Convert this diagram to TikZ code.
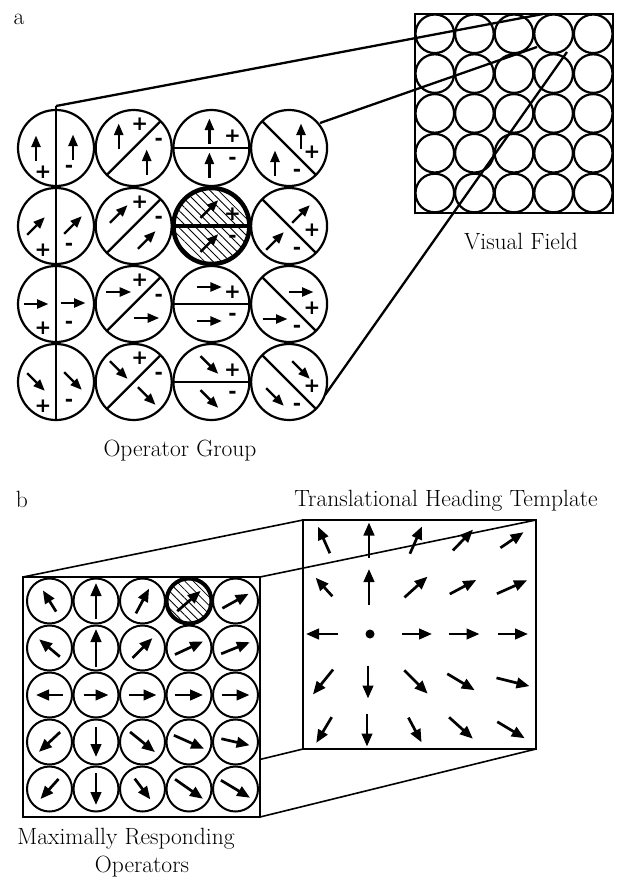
\documentclass[tikz,border=0pt]{standalone}
\usepackage{fontspec}
\newfontfamily\signfont{DejaVu Sans}
\usetikzlibrary{arrows.meta,patterns.meta}
\tikzset{
  opring/.style={draw=black, fill=white, line width=2.2pt},
  opbold/.style={draw=black, line width=4.5pt},
  ophatch/.style={pattern={Lines[angle=-45,distance=6pt,line width=0.8pt]}},
  opsplit/.style={draw=black, line width=2.2pt, line cap=butt},
  opdir/.style={line width=2.4pt, -{Triangle[length=11.5pt,width=9pt]}},
  opsign/.style={inner sep=0pt, font=\signfont\bfseries\fontsize{20}{20}\selectfont},
  vfring/.style={draw=black, line width=2.2pt},
  vfbox/.style={draw=black, line width=2.6pt},
  vflink/.style={draw=black, line width=2.3pt},
  flring/.style={draw=black, fill=white, line width=2pt},
  flbold/.style={draw=black, line width=4pt},
  flbox/.style={draw=black, line width=2.6pt},
  fldir/.style={line width=2.7pt, -{Triangle[length=13pt,width=10.5pt]}},
  fllink/.style={draw=black, line width=1.6pt},
  capt/.style={inner sep=0pt, anchor=base, font=\fontsize{23.5}{28}\selectfont},
}
\newcommand{\dirarrow}[5]{\draw[#1, shift={(#2,#3)}, rotate=#4] (-#5/2,0) -- (#5/2,0);}

\begin{document}
\begin{tikzpicture}[x=1pt, y=-1pt]
\useasboundingbox (0,0) rectangle (628,880);

\node[capt] (lbl-a) at (19,25) {a};
\node[capt] (cap-op) at (180,456) {Operator Group};
\node[capt] (cap-vf) at (521,249) {Visual Field};
\node[capt] (lbl-b) at (22,507) {b};
\node[capt] (cap-tp) at (446,506) {Translational Heading Template};
\node[capt] (cap-mr) at (126,844) {Maximally Responding};
\node[capt] (cap-mr2) at (142,872) {Operators};

\foreach \c in {0,...,3} \foreach \r in {0,...,3}
  \draw[opring] (56+77.7*\c,148+78*\r) circle (38);
\fill[ophatch] (211.4,226) circle (38);
\draw[opbold] (211.4,226) circle (38);
\coordinate (op-nw) at (56,106);
\coordinate (op-sw) at (56,420);
\draw[opsplit] (op-nw) -- (op-sw);
\foreach \r/\ang in {0/90,1/45,2/0,3/-45} {
  \begin{scope}[shift={(56,148+78*\r)}]
    \dirarrow{opdir}{-20}{0}{\ang}{25}
    \dirarrow{opdir}{17}{-1}{\ang}{25}
    \node[opsign] (pa\r) at (-13,24) {+};
    \node[opsign] (ma\r) at (13,21) {-};
  \end{scope}
  \begin{scope}[shift={(133.7,148+78*\r)}]
    \draw[opsplit] (-26.9,26.9) -- (26.9,-26.9);
    \dirarrow{opdir}{-15}{-12}{\ang}{25}
    \dirarrow{opdir}{13}{14}{\ang}{25}
    \node[opsign] (pb\r) at (6,-24) {+};
    \node[opsign] (mb\r) at (25,-6) {-};
  \end{scope}
  \begin{scope}[shift={(211.4,148+78*\r)}]
    \draw[opsplit] (-38,0) -- (38,0);
    \dirarrow{opdir}{-2}{-17}{\ang}{25}
    \dirarrow{opdir}{-2}{17}{\ang}{25}
    \node[opsign] (pc\r) at (21,-12) {+};
    \node[opsign] (mc\r) at (21,13) {-};
  \end{scope}
  \begin{scope}[shift={(289,148+78*\r)}]
    \draw[opsplit] (-26.9,-26.9) -- (26.9,26.9);
    \dirarrow{opdir}{12}{-12}{\ang}{25}
    \dirarrow{opdir}{-14}{15}{\ang}{25}
    \node[opsign] (pd\r) at (23,4) {+};
    \node[opsign] (md\r) at (8,25) {-};
  \end{scope}
}
\draw[opsplit, line width=4pt] (173.4,226) -- (249.4,226);

\draw[vfbox] (415,14) rectangle (613,213);
\foreach \i in {0,...,4} \foreach \j in {0,...,4}
  \draw[vfring] (434.8+39.6*\i,33.8+39.8*\j) circle (19.3);
\coordinate (op-ne) at (320,123);
\coordinate (op-se) at (325,395);
\coordinate (vf-a) at (543,14);
\coordinate (vf-b) at (537,47);
\coordinate (vf-c) at (567,52);
\draw[vflink] (op-nw) -- (vf-a);
\draw[vflink] (op-ne) -- (vf-b);
\draw[vflink] (op-se) -- (vf-c);

\coordinate (mr-nw) at (23,577);
\coordinate (mr-ne) at (260,577);
\coordinate (mr-sw) at (23,817);
\coordinate (mr-se) at (260,817);
\coordinate (tp-nw) at (303,520);
\coordinate (tp-ne) at (536,520);
\coordinate (tp-sw) at (303,749);
\coordinate (tp-se) at (536,749);
\draw[fllink] (mr-sw) -- (tp-sw);
\draw[flbox, fill=white] (mr-nw) rectangle (mr-se);
\foreach \c in {0,...,4} \foreach \r in {0,...,4}
  \draw[flring] (49.5+46.5*\c,601+47*\r) circle (22.5);
\fill[ophatch] (189,601) circle (22.5);
\draw[flbold] (189,601) circle (22.5);
\foreach \c/\r/\ang/\len in {
  0/0/122/25, 1/0/90/36, 2/0/62/28, 3/0/41/31, 4/0/29/30,
  0/1/140/27, 1/1/90/38, 2/1/45/28, 3/1/25/31, 4/1/22/31,
  0/2/180/27, 1/2/0/25, 2/2/0/28, 3/2/0/28, 4/2/0/28,
  0/3/223/29, 1/3/270/30, 2/3/-39/32, 3/3/-24/33, 4/3/-13/29,
  0/4/228/27, 1/4/270/32, 2/4/-53/26, 3/4/-35/34, 4/4/-31/34}
  {\dirarrow{fldir}{49.5+46.5*\c}{601+47*\r}{\ang}{\len}}

\draw[flbox] (tp-nw) rectangle (tp-se);
\foreach \x/\y/\ang/\len in {
  324/540/114/29, 369/540/90/35, 416/540/66/30, 463/540/46/29, 512/540/34/28,
  324/587/132/25, 369/587/90/36, 416/587/42/31, 463/587/28/30, 512/587/24/33,
  322/634/180/32, 417/634/0/30, 464/634/0/31, 513/634/0/30,
  323/682/231/32, 368/682/270/33, 416/682/-45/33, 461/682/-31/32, 513/682/-14/34,
  324/730/239/30, 367/730/270/33, 415/730/-62/28, 461/728/-42/32, 511/730/-31/32}
  {\dirarrow{fldir}{\x}{\y}{\ang}{\len}}
\fill (370,634) circle (4.5);
\draw[fllink] (mr-nw) -- (tp-nw);
\draw[fllink] (mr-ne) -- (tp-ne);
\draw[fllink] (mr-se) -- (tp-se);
\end{tikzpicture}
\end{document}
